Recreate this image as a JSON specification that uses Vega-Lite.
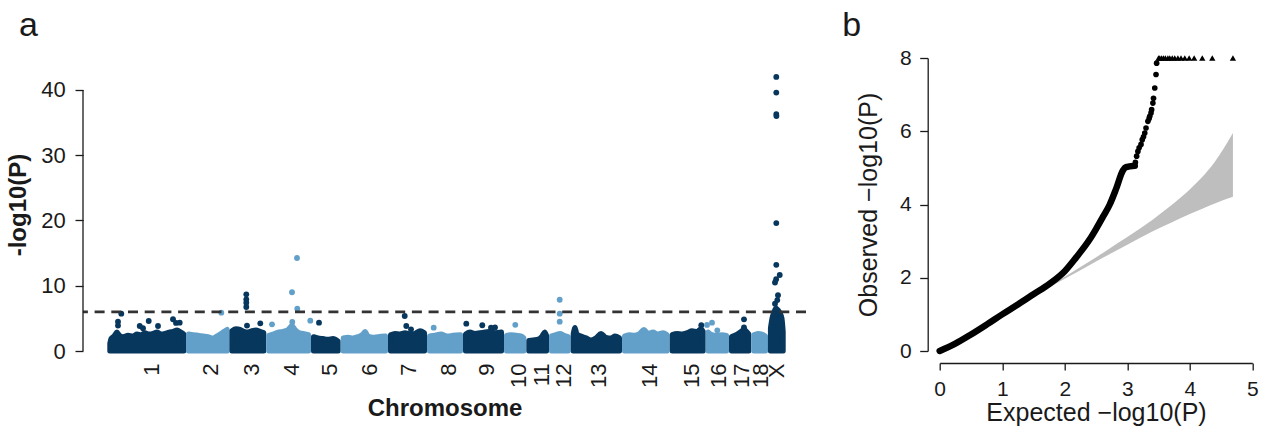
{
  "$schema": "https://vega.github.io/schema/vega-lite/v6.json",
  "padding": {"left": 6, "top": 8, "right": 5, "bottom": 5},
  "bounds": "flush",
  "spacing": 133.7,
  "config": {
    "view": {"stroke": null},
    "font": "Liberation Sans",
    "axis": {"grid": false, "labelFont": "Liberation Sans", "titleFont": "Liberation Sans", "labelColor": "#1a1a1a", "titleColor": "#1a1a1a", "domainColor": "#1a1a1a", "tickColor": "#1a1a1a", "domainWidth": 1.3, "tickWidth": 1.3}
  },
  "datasets": {
    "mass": [
      {"c":"1","g":"d","p":93.8,"v":1.15},{"c":"1","g":"d","p":98,"v":1.9},{"c":"1","g":"d","p":108.5,"v":2.3},{"c":"1","g":"d","p":119,"v":2.9},{"c":"1","g":"d","p":126,"v":2.5},{"c":"1","g":"d","p":140,"v":2.2},{"c":"1","g":"d","p":157.5,"v":2.4},{"c":"1","g":"d","p":175,"v":2.3},{"c":"1","g":"d","p":189,"v":2.6},{"c":"1","g":"d","p":203,"v":2.5},{"c":"1","g":"d","p":217,"v":2.8},{"c":"1","g":"d","p":231,"v":2.6},{"c":"1","g":"d","p":245,"v":2.7},{"c":"1","g":"d","p":259,"v":2.9},{"c":"1","g":"d","p":273,"v":2.6},{"c":"1","g":"d","p":287,"v":2.7},{"c":"1","g":"d","p":301,"v":2.9},{"c":"1","g":"d","p":315,"v":3.0},{"c":"1","g":"d","p":329,"v":3.2},{"c":"1","g":"d","p":343,"v":2.9},{"c":"1","g":"d","p":352.8,"v":2.6},
      {"c":"2","g":"l","p":369.3,"v":2.6},{"c":"2","g":"l","p":385,"v":2.5},{"c":"2","g":"l","p":402.5,"v":2.4},{"c":"2","g":"l","p":420,"v":2.3},{"c":"2","g":"l","p":437.5,"v":2.2},{"c":"2","g":"l","p":455,"v":2.0},{"c":"2","g":"l","p":469,"v":2.3},{"c":"2","g":"l","p":483,"v":2.7},{"c":"2","g":"l","p":493.5,"v":3.0},{"c":"2","g":"l","p":504.7,"v":3.3},
      {"c":"3","g":"d","p":521.2,"v":3.1},{"c":"3","g":"d","p":535.5,"v":3.4},{"c":"3","g":"d","p":549.5,"v":3.3},{"c":"3","g":"d","p":563.5,"v":3.0},{"c":"3","g":"d","p":577.5,"v":2.9},{"c":"3","g":"d","p":591.5,"v":3.1},{"c":"3","g":"d","p":605.5,"v":3.2},{"c":"3","g":"d","p":619.5,"v":3.0},{"c":"3","g":"d","p":632.8,"v":2.8},
      {"c":"4","g":"l","p":650.3,"v":2.4},{"c":"4","g":"l","p":665,"v":2.6},{"c":"4","g":"l","p":682.5,"v":2.9},{"c":"4","g":"l","p":700,"v":3.0},{"c":"4","g":"l","p":717.5,"v":3.3},{"c":"4","g":"l","p":731.5,"v":3.9},{"c":"4","g":"l","p":742,"v":3.3},{"c":"4","g":"l","p":756,"v":2.8},{"c":"4","g":"l","p":770,"v":2.7},{"c":"4","g":"l","p":789.3,"v":2.5},
      {"c":"5","g":"d","p":806.8,"v":2.2},{"c":"5","g":"d","p":822.5,"v":2.0},{"c":"5","g":"d","p":840,"v":1.9},{"c":"5","g":"d","p":857.5,"v":1.8},{"c":"5","g":"d","p":875,"v":1.9},{"c":"5","g":"d","p":893.2,"v":1.5},
      {"c":"6","g":"l","p":910.7,"v":2.0},{"c":"6","g":"l","p":927.5,"v":2.1},{"c":"6","g":"l","p":945,"v":2.0},{"c":"6","g":"l","p":962.5,"v":2.2},{"c":"6","g":"l","p":980,"v":2.6},{"c":"6","g":"l","p":987,"v":3.0},{"c":"6","g":"l","p":997.5,"v":2.3},{"c":"6","g":"l","p":1015,"v":2.1},{"c":"6","g":"l","p":1032.5,"v":2.2},{"c":"6","g":"l","p":1058.8,"v":2.3},
      {"c":"7","g":"d","p":1076.3,"v":2.5},{"c":"7","g":"d","p":1092,"v":2.7},{"c":"7","g":"d","p":1109.5,"v":2.6},{"c":"7","g":"d","p":1127,"v":2.8},{"c":"7","g":"d","p":1144.5,"v":2.6},{"c":"7","g":"d","p":1162,"v":2.7},{"c":"7","g":"d","p":1179.5,"v":3.1},{"c":"7","g":"d","p":1195.3,"v":2.8},
      {"c":"8","g":"l","p":1212.8,"v":2.3},{"c":"8","g":"l","p":1232,"v":2.4},{"c":"8","g":"l","p":1253,"v":2.6},{"c":"8","g":"l","p":1274,"v":2.3},{"c":"8","g":"l","p":1295,"v":2.4},{"c":"8","g":"l","p":1321.3,"v":2.5},
      {"c":"9","g":"d","p":1338.8,"v":2.6},{"c":"9","g":"d","p":1354.5,"v":2.9},{"c":"9","g":"d","p":1372,"v":2.7},{"c":"9","g":"d","p":1389.5,"v":2.8},{"c":"9","g":"d","p":1407,"v":2.9},{"c":"9","g":"d","p":1424.5,"v":3.0},{"c":"9","g":"d","p":1442,"v":2.8},{"c":"9","g":"d","p":1464.8,"v":2.9},
      {"c":"10","g":"l","p":1482.3,"v":2.4},{"c":"10","g":"l","p":1498,"v":2.5},{"c":"10","g":"l","p":1515.5,"v":2.4},{"c":"10","g":"l","p":1533,"v":2.3},{"c":"10","g":"l","p":1542.8,"v":2.0},
      {"c":"11","g":"d","p":1560.3,"v":1.6},{"c":"11","g":"d","p":1575,"v":1.7},{"c":"11","g":"d","p":1592.5,"v":1.8},{"c":"11","g":"d","p":1606.5,"v":2.3},{"c":"11","g":"d","p":1616,"v":2.9},{"c":"11","g":"d","p":1622.3,"v":2.4},
      {"c":"12","g":"l","p":1639.8,"v":2.3},{"c":"12","g":"l","p":1655.5,"v":2.5},{"c":"12","g":"l","p":1669.5,"v":2.7},{"c":"12","g":"l","p":1683.5,"v":2.4},{"c":"12","g":"l","p":1698.2,"v":2.2},
      {"c":"13","g":"d","p":1715.7,"v":2.6},{"c":"13","g":"d","p":1722,"v":3.6},{"c":"13","g":"d","p":1729,"v":2.6},{"c":"13","g":"d","p":1743,"v":2.3},{"c":"13","g":"d","p":1760.5,"v":2.0},{"c":"13","g":"d","p":1778,"v":1.7},{"c":"13","g":"d","p":1795.5,"v":2.0},{"c":"13","g":"d","p":1813,"v":2.7},{"c":"13","g":"d","p":1830.5,"v":2.1},{"c":"13","g":"d","p":1848,"v":2.0},{"c":"13","g":"d","p":1862,"v":2.3},{"c":"13","g":"d","p":1877.8,"v":2.0},
      {"c":"14","g":"l","p":1895.3,"v":2.3},{"c":"14","g":"l","p":1911,"v":2.5},{"c":"14","g":"l","p":1928.5,"v":2.4},{"c":"14","g":"l","p":1946,"v":2.6},{"c":"14","g":"l","p":1963.5,"v":3.3},{"c":"14","g":"l","p":1977.5,"v":2.7},{"c":"14","g":"l","p":1995,"v":2.9},{"c":"14","g":"l","p":2012.5,"v":2.6},{"c":"14","g":"l","p":2030,"v":2.8},{"c":"14","g":"l","p":2044.7,"v":2.5},
      {"c":"15","g":"d","p":2062.2,"v":2.5},{"c":"15","g":"d","p":2079,"v":2.7},{"c":"15","g":"d","p":2096.5,"v":2.6},{"c":"15","g":"d","p":2114,"v":2.8},{"c":"15","g":"d","p":2131.5,"v":3.1},{"c":"15","g":"d","p":2149,"v":3.0},{"c":"15","g":"d","p":2163,"v":3.4},{"c":"15","g":"d","p":2170.7,"v":3.0},
      {"c":"16","g":"l","p":2188.2,"v":2.9},{"c":"16","g":"l","p":2201.5,"v":2.5},{"c":"16","g":"l","p":2219,"v":2.4},{"c":"16","g":"l","p":2236.5,"v":2.5},{"c":"16","g":"l","p":2252.3,"v":2.4},
      {"c":"17","g":"d","p":2269.8,"v":2.2},{"c":"17","g":"d","p":2285.5,"v":2.5},{"c":"17","g":"d","p":2299.5,"v":2.9},{"c":"17","g":"d","p":2313.5,"v":3.3},{"c":"17","g":"d","p":2330.3,"v":2.6},
      {"c":"18","g":"l","p":2347.8,"v":2.5},{"c":"18","g":"l","p":2362.5,"v":2.7},{"c":"18","g":"l","p":2376.5,"v":2.6},{"c":"18","g":"l","p":2388.8,"v":2.3},
      {"c":"X","g":"d","p":2406,"v":3.5},{"c":"X","g":"d","p":2411.5,"v":5.0},{"c":"X","g":"d","p":2418.5,"v":6.0},{"c":"X","g":"d","p":2425.5,"v":6.6},{"c":"X","g":"d","p":2432.5,"v":6.3},{"c":"X","g":"d","p":2439.5,"v":5.8},{"c":"X","g":"d","p":2446.5,"v":5.0},{"c":"X","g":"d","p":2450.7,"v":3.0}
    ],
    "snps": [
      {"g":"d","p":122.5,"v":4.49},{"g":"d","p":122.5,"v":3.9},{"g":"d","p":134,"v":5.72},{"g":"d","p":198.5,"v":3.83},{"g":"d","p":230,"v":4.6},{"g":"d","p":210,"v":3.5},{"g":"d","p":262.5,"v":3.83},{"g":"d","p":315,"v":4.86},{"g":"d","p":325.5,"v":4.3},{"g":"d","p":338.5,"v":4.34},
      {"g":"l","p":484,"v":5.87},
      {"g":"d","p":571.5,"v":8.68},{"g":"d","p":571.5,"v":7.92},{"g":"d","p":571.5,"v":7.41},{"g":"d","p":571.5,"v":6.74},{"g":"d","p":620.5,"v":4.24},{"g":"d","p":574,"v":3.9},
      {"g":"l","p":661.5,"v":4.09},{"g":"l","p":731.5,"v":9.0},{"g":"l","p":749,"v":14.25},{"g":"l","p":750,"v":6.48},{"g":"l","p":732.5,"v":4.44},{"g":"l","p":795.5,"v":4.65},
      {"g":"d","p":826,"v":4.34},
      {"g":"d","p":1126,"v":5.36},{"g":"d","p":1131.5,"v":3.83},{"g":"d","p":1148,"v":3.32},
      {"g":"l","p":1227.5,"v":3.58},
      {"g":"d","p":1341.5,"v":4.19},{"g":"d","p":1397.5,"v":3.94},{"g":"d","p":1428,"v":3.58},{"g":"d","p":1442,"v":3.6},
      {"g":"l","p":1513,"v":4.01},
      {"g":"l","p":1668.5,"v":7.85},{"g":"l","p":1668.5,"v":5.72},{"g":"l","p":1668.5,"v":4.5},
      {"g":"d","p":2164,"v":3.94},
      {"g":"l","p":2184,"v":4.0},{"g":"l","p":2201.5,"v":4.34},{"g":"l","p":2220,"v":3.17},
      {"g":"d","p":2313.5,"v":4.85},{"g":"d","p":2313.5,"v":3.6},
      {"g":"d","p":2426.5,"v":42.0},{"g":"d","p":2426.5,"v":39.6},{"g":"d","p":2426.5,"v":36.3},{"g":"d","p":2427,"v":36.0},{"g":"d","p":2426.5,"v":19.6},{"g":"d","p":2426.5,"v":13.2},{"g":"d","p":2438.5,"v":11.65},{"g":"d","p":2426,"v":11.0},{"g":"d","p":2422,"v":10.5},{"g":"d","p":2432.5,"v":8.55},{"g":"d","p":2422,"v":7.25},{"g":"d","p":2430,"v":7.8}
    ],
    "band": [
      {"e":1.7,"lo":1.68,"hi":1.72},{"e":2.0,"lo":1.97,"hi":2.03},{"e":2.4,"lo":2.35,"hi":2.45},{"e":2.7,"lo":2.63,"hi":2.78},{"e":3.0,"lo":2.9,"hi":3.11},{"e":3.4,"lo":3.26,"hi":3.58},{"e":3.7,"lo":3.5,"hi":3.97},{"e":4.0,"lo":3.74,"hi":4.41},{"e":4.21,"lo":3.89,"hi":4.77},{"e":4.39,"lo":4.02,"hi":5.14},{"e":4.69,"lo":4.21,"hi":5.95}
    ],
    "qqline": [
      {"e":0,"o":0},{"e":0.25,"o":0.2},{"e":0.5,"o":0.45},{"e":0.75,"o":0.72},{"e":1.0,"o":1.0},{"e":1.25,"o":1.27},{"e":1.5,"o":1.55},{"e":1.76,"o":1.84},{"e":2.0,"o":2.18},{"e":2.18,"o":2.55},{"e":2.4,"o":3.05},{"e":2.5,"o":3.33},{"e":2.61,"o":3.66},{"e":2.72,"o":4.0},{"e":2.82,"o":4.42},{"e":2.93,"o":4.93},{"e":2.98,"o":5.02},{"e":3.12,"o":5.06}
    ],
    "qqpts": [
      {"e":3.13,"o":5.15},{"e":3.15,"o":5.32},{"e":3.17,"o":5.45},{"e":3.19,"o":5.55},{"e":3.22,"o":5.64},{"e":3.24,"o":5.77},{"e":3.26,"o":5.85},{"e":3.28,"o":5.95},{"e":3.3,"o":6.09},{"e":3.33,"o":6.27},{"e":3.35,"o":6.35},{"e":3.36,"o":6.41},{"e":3.38,"o":6.5},{"e":3.39,"o":6.59},{"e":3.41,"o":6.77},{"e":3.42,"o":6.9},{"e":3.44,"o":7.18},{"e":3.46,"o":7.55},{"e":3.47,"o":7.86}
    ],
    "capped": [
      {"e":3.5,"o":8},{"e":3.52,"o":8},{"e":3.55,"o":8},{"e":3.58,"o":8},{"e":3.61,"o":8},{"e":3.65,"o":8},{"e":3.68,"o":8},{"e":3.72,"o":8},{"e":3.76,"o":8},{"e":3.81,"o":8},{"e":3.86,"o":8},{"e":3.92,"o":8},{"e":3.99,"o":8},{"e":4.07,"o":8},{"e":4.2,"o":8},{"e":4.36,"o":8},{"e":4.69,"o":8}
    ]
  },
  "hconcat": [
    {
      "width": 723,
      "height": 293,
      "title": {"text": "a", "anchor": "start", "frame": "group", "dx": -64, "offset": -12, "fontSize": 34, "fontWeight": "normal", "baseline": "alphabetic", "color": "#1a1a1a", "font": "Liberation Sans"},
      "layer": [
        {
          "data": {"name": "mass"},
          "mark": {"type": "area", "interpolate": "monotone", "strokeWidth": 5, "strokeJoin": "round", "opacity": 1},
          "encoding": {
            "x": {"field": "p", "type": "quantitative", "scale": {"domain": [0, 2530.5], "nice": false, "zero": false},
              "axis": {"title": "Chromosome", "titleFontSize": 24, "titleFontWeight": "bold", "titlePadding": 9, "domain": false, "ticks": false, "labelAngle": 270, "labelPadding": 12, "labelFontSize": 22, "labelOverlap": false, "labelBound": false, "labelFlush": false,
                "values": [238, 444.5, 588, 728, 861, 1001, 1137.5, 1280, 1410.5, 1522.5, 1603, 1680, 1805, 1983.5, 2128, 2222.5, 2303, 2369.5, 2425.5],
                "labelExpr": "['1','2','3','4','5','6','7','8','9','10','11','12','13','14','15','16','17','18','X'][indexof([238, 444.5, 588, 728, 861, 1001, 1137.5, 1280, 1410.5, 1522.5, 1603, 1680, 1805, 1983.5, 2128, 2222.5, 2303, 2369.5, 2425.5], datum.value)]"}},
            "y": {"field": "v", "type": "quantitative", "scale": {"domain": [0, 44.9], "nice": false},
              "axis": {"title": "-log10(P)", "titleFontSize": 24, "titleFontWeight": "bold", "titlePadding": 10, "values": [0, 10, 20, 30, 40], "format": "d", "domain": false, "tickSize": 8, "labelPadding": 9.7, "labelFontSize": 22}},
            "y2": {"datum": 0},
            "detail": {"field": "c"},
            "color": {"field": "g", "type": "nominal", "scale": {"domain": ["d", "l"], "range": ["#08375E", "#62A0CA"]}, "legend": null},
            "stroke": {"field": "g", "type": "nominal", "scale": {"domain": ["d", "l"], "range": ["#08375E", "#62A0CA"]}, "legend": null}
          }
        },
        {
          "data": {"name": "snps"},
          "mark": {"type": "circle", "size": 34, "opacity": 1},
          "encoding": {
            "x": {"field": "p", "type": "quantitative"},
            "y": {"field": "v", "type": "quantitative"},
            "color": {"field": "g", "type": "nominal", "legend": null}
          }
        },
        {
          "data": {"values": [{"v": 6}]},
          "mark": {"type": "rule", "strokeDash": [10, 6.7], "strokeWidth": 2.6, "color": "#333333"},
          "encoding": {"y": {"field": "v", "type": "quantitative"}}
        },
        {
          "data": {"values": [{"p": 0, "v": 0, "v2": 40}]},
          "mark": {"type": "rule", "strokeWidth": 1.3, "color": "#1a1a1a"},
          "encoding": {"x": {"field": "p", "type": "quantitative"}, "y": {"field": "v", "type": "quantitative"}, "y2": {"field": "v2"}}
        }
      ]
    },
    {
      "width": 312.6,
      "height": 293,
      "title": {"text": "b", "anchor": "start", "frame": "group", "dx": -97.4, "offset": -22.5, "fontSize": 34, "fontWeight": "normal", "baseline": "alphabetic", "color": "#1a1a1a", "font": "Liberation Sans"},
      "layer": [
        {
          "data": {"name": "band"},
          "mark": {"type": "area", "interpolate": "monotone", "color": "#BEBEBE", "opacity": 1},
          "encoding": {
            "x": {"field": "e", "type": "quantitative", "scale": {"domain": [0, 5], "nice": false, "zero": false},
              "axis": {"title": "Expected −log10(P)", "titleFontSize": 25, "titleFontWeight": "normal", "titlePadding": 1, "offset": 12, "values": [0, 1, 2, 3, 4, 5], "format": "d", "tickSize": 7, "labelPadding": 8, "labelFontSize": 21, "labelFlush": false}},
            "y": {"field": "lo", "type": "quantitative", "scale": {"domain": [0, 8], "nice": false},
              "axis": {"title": "Observed −log10(P)", "titleFontSize": 25, "titleFontWeight": "normal", "titlePadding": 18, "offset": 12, "values": [0, 2, 4, 6, 8], "format": "d", "tickSize": 8, "labelPadding": 8.4, "labelFontSize": 21, "labelFlush": false}},
            "y2": {"field": "hi"}
          }
        },
        {
          "data": {"name": "qqline"},
          "mark": {"type": "line", "interpolate": "monotone", "color": "#000000", "strokeWidth": 6.5, "strokeCap": "round", "strokeJoin": "round"},
          "encoding": {"x": {"field": "e", "type": "quantitative"}, "y": {"field": "o", "type": "quantitative"}}
        },
        {
          "data": {"name": "qqpts"},
          "mark": {"type": "circle", "size": 32, "color": "#000000", "opacity": 1},
          "encoding": {"x": {"field": "e", "type": "quantitative"}, "y": {"field": "o", "type": "quantitative"}}
        },
        {
          "data": {"name": "capped"},
          "mark": {"type": "point", "shape": "triangle-up", "filled": true, "size": 40, "color": "#000000", "opacity": 1},
          "encoding": {"x": {"field": "e", "type": "quantitative"}, "y": {"field": "o", "type": "quantitative"}}
        }
      ]
    }
  ]
}
